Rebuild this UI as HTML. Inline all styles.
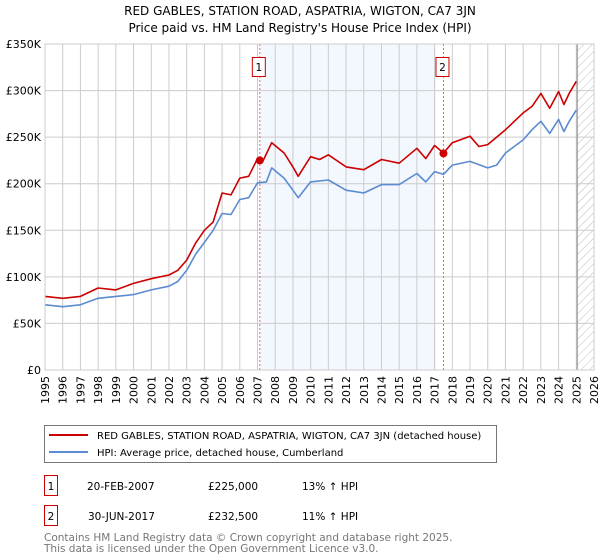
<!DOCTYPE html>
<html><head><meta charset="utf-8"><style>
body{margin:0;background:#fff;font-family:"DejaVu Sans","Liberation Sans",sans-serif;}
svg{display:block}
</style></head><body>
<svg width="600" height="560" font-family="DejaVu Sans, Liberation Sans, sans-serif">
<defs><pattern id="hatch" width="6" height="6" patternUnits="userSpaceOnUse" patternTransform="rotate(45)"><line x1="0" y1="0" x2="0" y2="6" stroke="#bbb" stroke-width="1"/></pattern></defs>
<text x="300" y="15" text-anchor="middle" font-size="12">RED GABLES, STATION ROAD, ASPATRIA, WIGTON, CA7 3JN</text>
<text x="300" y="32" text-anchor="middle" font-size="12">Price paid vs. HM Land Registry's House Price Index (HPI)</text>
<g id="plot"></g>
<g>
<rect x="44.5" y="425.5" width="452" height="37" fill="#fff" stroke="#777"/>
<line x1="49" y1="435" x2="88" y2="435" stroke="#cc0000" stroke-width="2"/>
<text x="97" y="439" font-size="10">RED GABLES, STATION ROAD, ASPATRIA, WIGTON, CA7 3JN (detached house)</text>
<line x1="49" y1="452" x2="88" y2="452" stroke="#5b8bd0" stroke-width="2"/>
<text x="97" y="456" font-size="10">HPI: Average price, detached house, Cumberland</text>
</g>
<g font-size="10.5">
<rect x="44.5" y="475.5" width="13" height="20" fill="#fff" stroke="#cc0000"/>
<text x="51" y="490" text-anchor="middle">1</text>
<text x="87" y="490">20-FEB-2007</text><text x="208" y="490">£225,000</text><text x="302" y="490">13% ↑ HPI</text>
<rect x="44.5" y="505.5" width="13" height="20" fill="#fff" stroke="#cc0000"/>
<text x="51" y="520" text-anchor="middle">2</text>
<text x="88" y="520">30-JUN-2017</text><text x="208" y="520">£232,500</text><text x="302" y="520">11% ↑ HPI</text>
</g>
<text x="44" y="541" font-size="10.5" fill="#777">Contains HM Land Registry data © Crown copyright and database right 2025.</text>
<text x="44" y="552" font-size="10.5" fill="#777">This data is licensed under the Open Government Licence v3.0.</text>
</svg>
<script>
const hpiYears=[1995,1996,1997,1998,1999,2000,2001,2002,2002.5,2003,2003.5,2004,2004.5,2005,2005.5,2006,2006.5,2007,2007.5,2007.8,2008.5,2009,2009.3,2010,2011,2012,2013,2014,2015,2016,2016.5,2017,2017.5,2018,2019,2020,2020.5,2021,2022,2022.5,2023,2023.5,2024,2024.3,2024.6,2025];
const hpiValues=[70,68,70,77,79,81,86,90,95,107,124,137,150,168,167,183,185,201,202,217,206,193,185,202,204,193,190,199,199,211,202,213,210,220,224,217,220,233,247,258,267,254,269,256,267,279];
const redYears=[1995,1996,1997,1998,1999,2000,2001,2002,2002.5,2003,2003.5,2004,2004.5,2005,2005.5,2006,2006.5,2007,2007.3,2007.8,2008.5,2009,2009.3,2010,2010.5,2011,2012,2013,2014,2015,2016,2016.5,2017,2017.5,2018,2019,2019.5,2020,2021,2021.5,2022,2022.5,2023,2023.5,2024,2024.3,2024.6,2025];
const redValues=[79,77,79,88,86,93,98,102,107,118,136,150,159,190,188,206,208,227,224,244,233,218,208,229,226,231,218,215,226,222,238,227,241,233,244,251,240,242,258,267,276,283,297,281,299,285,297,310];
const saleYears=[2007.13,2017.5];
const saleValues=[225,232.5];
const saleLabels=["1","2"];
const yTicks=[0,50,100,150,200,250,300,350];
const yTickLabels=["£0","£50K","£100K","£150K","£200K","£250K","£300K","£350K"];
const xTicks=[1995,1996,1997,1998,1999,2000,2001,2002,2003,2004,2005,2006,2007,2008,2009,2010,2011,2012,2013,2014,2015,2016,2017,2018,2019,2020,2021,2022,2023,2024,2025,2026];

const X0=45,X1=594,Y0=370,Y1=44;
const xs=y=>X0+(y-1995)/(2026-1995)*(X1-X0);
const ys=v=>Y0-v/350*(Y0-Y1);
const NS="http://www.w3.org/2000/svg";
const g=document.getElementById('plot');
function mk(t,a,p){const e=document.createElementNS(NS,t);for(const k in a)e.setAttribute(k,a[k]);(p||g).appendChild(e);return e;}
let e;
e=mk('rect',{x:xs(saleYears[0]),y:Y1,width:xs(2017.05)-xs(saleYears[0]),height:Y0-Y1,fill:'#eef3fd',opacity:0.7});


e=mk('rect',{x:xs(2025.05),y:Y1,width:X1-xs(2025.05),height:Y0-Y1,fill:'url(#hatch)'});


xTicks.forEach(t=>{
 e=mk('line',{x1:xs(t),x2:xs(t),y1:Y1,y2:Y0,stroke:'#ccc','stroke-width':1});
 
 
 e=mk('text',{x:0,y:0,'font-size':11,'text-anchor':'end',transform:`translate(${xs(t)+4},${Y0+6}) rotate(-90)`});
 e.textContent=t;
 
 
});
yTicks.forEach((t,i)=>{
 e=mk('line',{x1:X0,x2:X1,y1:ys(t),y2:ys(t),stroke:'#ccc','stroke-width':1});
 
 
 e=mk('text',{x:X0-4,y:ys(t)+4,'font-size':11,'text-anchor':'end'});
 e.textContent=yTickLabels[i];
 
 
});
e=mk('line',{x1:xs(2025.05),x2:xs(2025.05),y1:Y1,y2:Y0,stroke:'#888','stroke-width':1});


saleYears.forEach((y,i)=>{
 e=mk('line',{x1:xs(y),x2:xs(y),y1:Y1,y2:Y0,stroke:'#e66','stroke-width':1,'stroke-dasharray':'2,2'});
 
 
 e=mk('rect',{x:xs(y)-7.5,y:57.5,width:13,height:19,fill:'#fff',stroke:'#cc0000'});
 
 
 e=mk('text',{x:xs(y)-1,y:71,'font-size':10.5,'text-anchor':'middle'});
 e.textContent=saleLabels[i];
 
 
});
function line(xa,va,col,name){
 const d=xa.map((y,i)=>(i?'L':'M')+xs(y).toFixed(1)+','+ys(va[i]).toFixed(1)).join('');
 const p=mk('path',{d,fill:'none',stroke:col,'stroke-width':1.6,'stroke-linejoin':'round'});
 
 
}
line(hpiYears,hpiValues,'#5b8bd0','hpi-line');
line(redYears,redValues,'#cc0000','property-line');
saleYears.forEach((y,i)=>{
 e=mk('circle',{cx:xs(y),cy:ys(saleValues[i]),r:4,fill:'#cc0000'});
 
 
});
e=mk('rect',{x:X0,y:Y1,width:X1-X0,height:Y0-Y1,fill:'none',stroke:'#ccc'});


</script>
</body></html>
